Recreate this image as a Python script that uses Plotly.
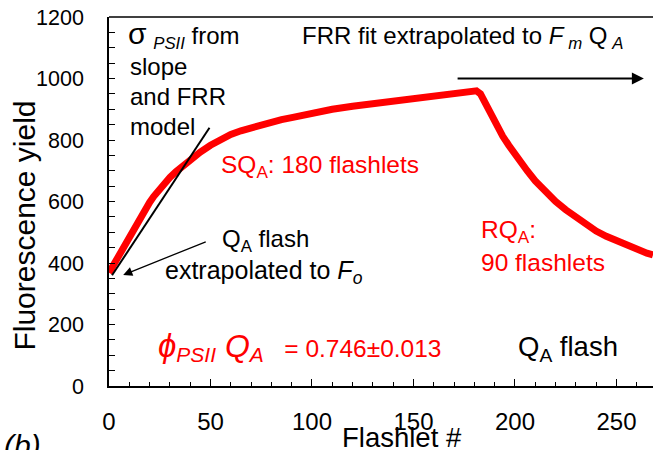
import plotly.graph_objects as go

# ---- data ----
flashlet = [0, 2, 4, 6, 8, 10, 12, 14, 16, 18, 20, 22, 24, 26, 28, 30, 33, 36, 40, 45,
            50, 55, 60, 65, 70, 75, 80, 85, 90, 95, 100, 110, 120, 130, 140, 150, 160,
            170, 176, 181,
            183, 185, 187, 189, 191, 194, 197, 200, 203, 206, 210, 215, 220, 225, 230, 235,
            240, 245, 250, 255, 260, 265, 268]
fluor_yield = [368, 392, 416, 440, 464, 488, 511, 534, 556, 577, 597, 616, 633, 649, 664, 678, 697, 714, 736, 761,
               783, 802, 818, 830, 840, 850, 858, 866, 873, 880, 888, 900, 910, 918, 926, 935, 943,
               950, 955, 960,
               950, 925, 895, 868, 845, 812, 782, 753, 726, 700, 667, 631, 600, 573, 548, 524,
               504, 487, 472, 457, 444, 432, 426]

slope_x = [1.5, 49.5]
slope_y = [360, 840]

x_ticks = [0, 50, 100, 150, 200, 250]
y_ticks = [0, 200, 400, 600, 800, 1000, 1200]

FONT = "Liberation Sans, Arial, sans-serif"
RED = "rgb(255,0,0)"
NB = "\u00a0"

fig = go.Figure()
fig.add_trace(go.Scatter(x=flashlet, y=fluor_yield, mode="lines", cliponaxis=False,
                         line=dict(color=RED, width=7), hoverinfo="skip"))
fig.add_trace(go.Scatter(x=slope_x, y=slope_y, mode="lines",
                         line=dict(color="black", width=2), hoverinfo="skip"))

W, H = 653, 450
L, R, T, B = 108.5, 0, 17, 64
pw, ph = W - L - R, H - T - B


def px(xp):
    return (xp - L) / pw


def py(yp):
    return (H - B - yp) / ph


ann = []


def text(xp, yp, s, size=24, color="black", xanchor="left"):
    ann.append(dict(x=px(xp), y=py(yp), xref="paper", yref="paper", text=s,
                    showarrow=False, xanchor=xanchor, yanchor="middle",
                    font=dict(family=FONT, size=size, color=color)))


text(126, 35, "<span style='font-size:30px'>σ</span> <sub><i>PSII</i></sub> from", 24)
text(128, 67, "slope", 24)
text(128, 97, "and FRR", 24)
text(128, 127, "model", 24)
text(300, 38, "FRR fit extrapolated to <i>F</i><sub> <i>m</i></sub> Q<sub> <i>A</i></sub>", 24)
text(219, 166, "SQ<sub>A</sub>: 180 flashlets", 24.5, RED)
text(220, 240, "Q<sub>A</sub> flash", 24)
text(163, 272, "extrapolated to <i>F</i><sub><i>o</i></sub>", 25)
text(479, 231, "RQ<sub>A</sub>:", 24.5, RED)
text(479, 262, "90 flashlets", 24.5, RED)
text(156, 346,
     "<i><span style='font-size:33px'>ϕ</span></i>" +
     "<sub><i><span style='font-size:21px'>PSII</span></i></sub>" +
     "<i><span style='font-size:32px'>" + NB + "Q</span></i>" +
     "<sub><i><span style='font-size:21px'>A</span></i></sub>" +
     NB * 3 + "= 0.746±0.013", 24.5, RED)
text(516, 348, "Q<sub>A</sub> flash", 27.5)
text(1, 445, "<i>(b)</i>", 30)

# axis titles
ann.append(dict(x=px(23), y=py(226), xref="paper", yref="paper", text="Fluorescence yield",
                showarrow=False, textangle=-90, xanchor="center", yanchor="middle",
                font=dict(family=FONT, size=30, color="black")))
ann.append(dict(x=px(402), y=py(437), xref="paper", yref="paper", text="Flashlet #",
                showarrow=False, xanchor="center", yanchor="middle",
                font=dict(family=FONT, size=27.5, color="black")))

# arrows
ann.append(dict(x=7, y=361, ax=48.4, ay=471, xref="x", yref="y", axref="x", ayref="y",
                text="", showarrow=True, arrowhead=2, arrowsize=1.4, arrowwidth=1.3,
                arrowcolor="black"))
ann.append(dict(x=263.5, y=1000, ax=171, ay=1000, xref="x", yref="y", axref="x", ayref="y",
                text="", showarrow=True, arrowhead=2, arrowsize=1.2, arrowwidth=2,
                arrowcolor="black"))

fig.update_layout(
    width=W, height=H,
    margin=dict(l=L, r=R, t=T, b=B, pad=0),
    paper_bgcolor="white", plot_bgcolor="white",
    showlegend=False,
    font=dict(family=FONT, size=24, color="black"),
    annotations=ann,
    shapes=[dict(type="line", xref="paper", yref="paper", x0=0, x1=1, y0=1, y1=1,
                 line=dict(color="black", width=1.5))],
    xaxis=dict(range=[0, 268], tickvals=x_ticks, ticks="inside", ticklen=7, tickwidth=1.2,
               tickcolor="black", showline=True, linecolor="black", linewidth=1.5,
               showgrid=False, zeroline=False, ticklabelstandoff=13, automargin=False,
               tickfont=dict(size=24, family=FONT, color="black"),
               minor=dict(dtick=10, ticks="inside", ticklen=4, tickwidth=1.2, tickcolor="black")),
    yaxis=dict(range=[0, 1200], tickvals=y_ticks, ticks="inside", ticklen=6, tickwidth=1.2,
               tickcolor="black", showline=True, linecolor="black", linewidth=1.5,
               showgrid=False, zeroline=False, ticklabelstandoff=19, automargin=False,
               tickfont=dict(size=21.5, family=FONT, color="black"),
               minor=dict(dtick=50, ticks="inside", ticklen=6, tickwidth=1.2, tickcolor="black")),
)

fig.write_html("out.html", config={"displayModeBar": False},
               post_script="document.body.style.margin='0';document.body.style.overflow='hidden';")
